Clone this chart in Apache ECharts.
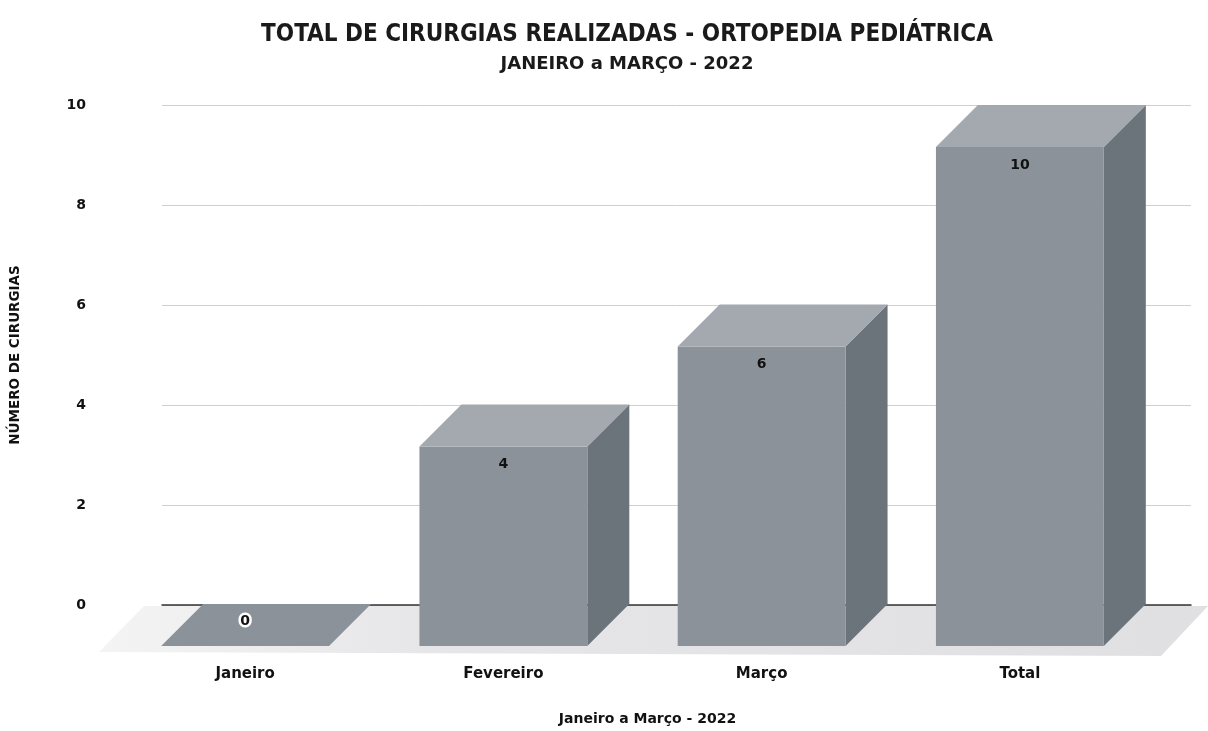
<!DOCTYPE html>
<html>
<head>
<meta charset="utf-8">
<script src="https://cdn.jsdelivr.net/npm/echarts@6/dist/echarts.min.js"></script>
<style>
  html, body { margin: 0; padding: 0; background: #fff; }
  #main { width: 1208px; height: 731px; }
</style>
</head>
<body>
<div id="main"></div>
<script>
var categories = ['Janeiro', 'Fevereiro', 'Março', 'Total'];
var cirurgias = [0, 4, 6, 10];
var yMin = 0, yMax = 10, yStep = 2;

var DEPTH = 42; // profundidade do efeito 3D
var frontColor = '#8b929a';
var topColor = '#a3a9ae';
var sideColor = '#6b737b';
var heavy = '"DejaVu Sans", Verdana, sans-serif';
var narrow = '"DejaVu Sans Condensed", "Liberation Sans Narrow", "Arial Narrow", sans-serif';

var echart = echarts.init(document.getElementById('main'));

function renderBox(params, api) {
  var i = api.value(0), v = api.value(1);
  var base = api.coord([i, 0]);
  var top = api.coord([i, v]);
  var w = api.size([1, 0])[0] * 0.65;
  var x0 = base[0] - w / 2, x1 = base[0] + w / 2;
  var yb = base[1], yt = top[1], d = DEPTH;
  var children = [];
  if (v > 0) {
    children.push({
      type: 'polygon',
      shape: { points: [[x1, yt], [x1 + d, yt - d], [x1 + d, yb - d], [x1, yb]] },
      style: { fill: sideColor }
    });
    children.push({
      type: 'rect',
      shape: { x: x0, y: yt, width: w, height: yb - yt },
      style: { fill: frontColor }
    });
  }
  children.push({
    type: 'polygon',
    shape: { points: [[x0, yt], [x0 + d, yt - d], [x1 + d, yt - d], [x1, yt]] },
    style: { fill: v > 0 ? topColor : frontColor }
  });
  children.push({
    type: 'text',
    style: {
      text: String(v),
      x: base[0],
      y: v > 0 ? yt + 18 : yt - 25,
      align: 'center',
      verticalAlign: 'middle',
      fill: '#111',
      font: 'bold 14px ' + heavy,
      stroke: v > 0 ? null : '#fff',
      lineWidth: v > 0 ? 0 : 5
    }
  });
  return { type: 'group', children: children };
}

function renderFloor(params, api) {
  var cs = params.coordSys;
  var y0 = api.coord([0, 0])[1] + 1;
  var d = DEPTH;
  return {
    type: 'polygon',
    shape: {
      points: [
        [cs.x - 18, y0], [cs.x + cs.width + 17, y0],
        [cs.x + cs.width - 30, y0 + d + 8], [cs.x - 63, y0 + d + 4]
      ]
    },
    style: {
      fill: new echarts.graphic.LinearGradient(0, 0, 1, 0, [
        { offset: 0, color: '#f4f4f5' },
        { offset: 0.3, color: '#e6e6e8' },
        { offset: 1, color: '#e0e0e2' }
      ])
    },
    silent: true
  };
}

var option = {
  backgroundColor: '#fff',
  animation: false,
  title: {
    text: 'TOTAL DE CIRURGIAS REALIZADAS - ORTOPEDIA PEDIÁTRICA',
    subtext: 'JANEIRO a MARÇO - 2022',
    left: 622,
    textAlign: 'center',
    top: 18,
    itemGap: 8,
    textStyle: { fontFamily: narrow, fontWeight: 'bold', fontSize: 24, color: '#1a1a1a' },
    subtextStyle: { fontFamily: heavy, fontWeight: 'bold', fontSize: 18, color: '#1a1a1a' }
  },
  grid: [
    { left: 158, right: 17, top: 105, bottom: 126 },  // parede do fundo
    { left: 116, right: 59, top: 147, bottom: 84 }    // face frontal
  ],
  xAxis: [{
    type: 'category', gridIndex: 0, data: categories,
    axisLine: { show: true, lineStyle: { color: '#333', width: 1.5 } },
    axisTick: { show: false }, axisLabel: { show: false }
  }, {
    type: 'category', gridIndex: 1, data: categories,
    axisLine: { show: false }, axisTick: { show: false },
    axisLabel: { margin: 21, color: '#111', fontFamily: heavy, fontWeight: 'bold', fontSize: 15 },
    name: 'Janeiro a Março - 2022', nameLocation: 'middle', nameGap: 66,
    nameTextStyle: { color: '#111', fontFamily: heavy, fontWeight: 'bold', fontSize: 14, padding: [0, 0, 0, 30] }
  }],
  yAxis: [{
    type: 'value', gridIndex: 0, min: yMin, max: yMax, interval: yStep,
    axisLine: { show: false }, axisTick: { show: false },
    axisLabel: { margin: 76, color: '#111', fontFamily: heavy, fontWeight: 'bold', fontSize: 14 },
    splitLine: { show: true, lineStyle: { color: '#cfcfcf' } },
    name: 'NÚMERO DE CIRURGIAS', nameLocation: 'middle', nameGap: 140, nameRotate: 90,
    nameTextStyle: { color: '#111', fontFamily: heavy, fontWeight: 'bold', fontSize: 13.5 }
  }, {
    type: 'value', gridIndex: 1, min: yMin, max: yMax, interval: yStep, show: false
  }],
  series: [{
    type: 'custom', name: 'chao', xAxisIndex: 0, yAxisIndex: 0, z: 1,
    renderItem: renderFloor, data: [[0, 0]], silent: true
  }, {
    type: 'custom', name: 'Cirurgias', xAxisIndex: 1, yAxisIndex: 1, z: 5,
    renderItem: renderBox,
    encode: { x: 0, y: 1 },
    data: cirurgias.map(function (v, i) { return [i, v]; })
  }]
};
echart.setOption(option);

window.onresize = function () { echart.resize(); };
</script>
</body>
</html>
